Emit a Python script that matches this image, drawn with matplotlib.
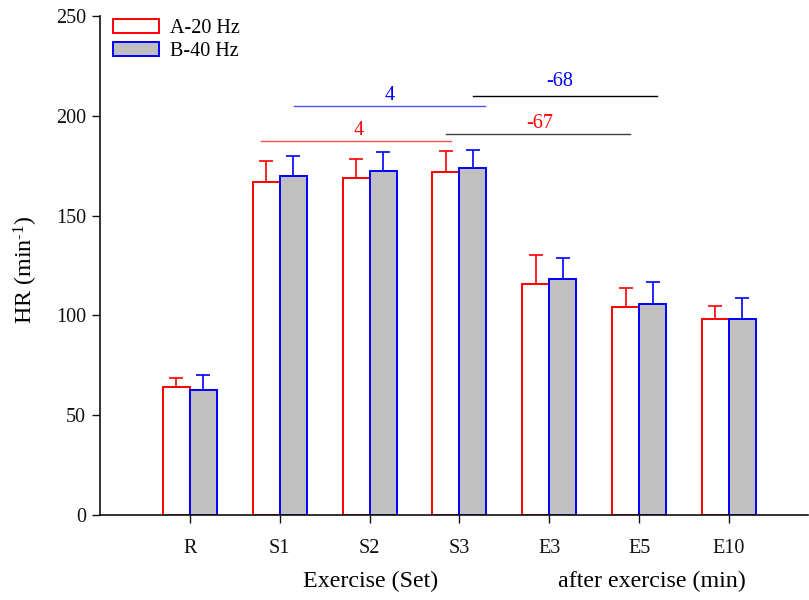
import matplotlib
matplotlib.use("Agg")
import matplotlib.pyplot as plt
import numpy as np
from matplotlib.patches import Patch

categories = ["R", "S1", "S2", "S3", "E3", "E5", "E10"]
a_mean = [64.2, 167.0, 169.0, 171.6, 115.7, 104.3, 98.4]
a_err = [4.5, 10.2, 9.4, 11.0, 14.5, 9.2, 6.5]
b_mean = [62.6, 170.0, 172.4, 174.1, 118.0, 105.9, 98.1]
b_err = [7.4, 10.0, 9.5, 9.0, 10.8, 10.6, 10.8]
series_labels = ["A-20 Hz", "B-40 Hz"]
yticks = [0, 50, 100, 150, 200, 250]

plt.rcParams['font.family'] = ['Liberation Serif', 'DejaVu Serif']
plt.rcParams['mathtext.fontset'] = 'custom'
plt.rcParams['mathtext.rm'] = 'Liberation Serif'
plt.rcParams['mathtext.it'] = 'Liberation Serif:italic'
fs = 14.5
fs_lab = 17.3

fig = plt.figure(figsize=(8.09, 6.0), dpi=100)
ax = fig.add_axes([0.1236, 0.1417, 0.8752, 0.8316])

x = np.arange(len(categories))
w = 0.30
ax.bar(x - w / 2, a_mean, width=w, facecolor="white", edgecolor="#ff0000", linewidth=1.4, zorder=2)
ax.bar(x + w / 2, b_mean, width=w, facecolor="#c0c0c0", edgecolor="#0000ff", linewidth=1.4, zorder=2)
ax.errorbar(x - w / 2, a_mean, yerr=[np.zeros(len(a_err)), a_err], fmt="none",
            ecolor="#ff0000", elinewidth=1.2, capsize=5, capthick=1.2, zorder=1)
ax.errorbar(x + w / 2, b_mean, yerr=[np.zeros(len(b_err)), b_err], fmt="none",
            ecolor="#0000ff", elinewidth=1.2, capsize=5, capthick=1.2, zorder=1)

# significance annotations
ax.plot([0.79, 2.91], [187.6, 187.6], color="#ff5050", lw=1.0)
ax.text(1.88, 192.5, "4", color="#ff0000", fontsize=fs, ha="center", va="center")
ax.plot([1.16, 3.28], [204.7, 204.7], color="#5050ff", lw=1.0)
ax.text(2.22, 210.0, "4", color="#0000ff", fontsize=fs, ha="center", va="center")
ax.plot([2.85, 4.90], [190.7, 190.7], color="#404040", lw=1.0)
ax.text(3.89, 196.0, "-67", color="#ff0000", fontsize=fs, ha="center", va="center")
ax.plot([3.155, 5.20], [210.0, 210.0], color="black", lw=1.0)
ax.text(4.12, 217.2, "-68", color="#0000ff", fontsize=fs, ha="center", va="center")

ax.set_xlim(-1.0, 6.88)
ax.set_ylim(0, 250)
ax.set_xticks(x)
ax.set_xticklabels(categories, fontsize=fs)
ax.set_yticks(yticks)
ax.set_yticklabels([str(t) for t in yticks], fontsize=fs)
ax.tick_params(axis="both", direction="out", length=6, width=1.0, colors="#111111")
ax.tick_params(axis="x", pad=11)
ax.tick_params(axis="y", pad=4)
for s in ["top", "right"]:
    ax.spines[s].set_visible(False)
for s in ["left", "bottom"]:
    ax.spines[s].set_linewidth(1.2)
    ax.spines[s].set_color("#111111")

fig.text(26 / 809, 1 - 270 / 600, r"HR (min$^{\text{-1}}$)", fontsize=fs_lab,
         rotation=90, ha="center", va="center")

fig.text(370.5 / 809, 1 - 581 / 600, "Exercise (Set)", fontsize=fs_lab, ha="center", va="center")
fig.text(652 / 809, 1 - 581 / 600, "after exercise (min)", fontsize=fs_lab, ha="center", va="center")

handles = [Patch(facecolor="white", edgecolor="#ff0000", linewidth=1.4),
           Patch(facecolor="#c0c0c0", edgecolor="#0000ff", linewidth=1.4)]
ax.legend(handles, series_labels, loc="upper left",
          bbox_to_anchor=(105 / 809, 1 - 11 / 600), bbox_transform=fig.transFigure, frameon=False,
          fontsize=fs, handlelength=2.3, handleheight=0.7, labelspacing=0.18, handletextpad=0.55,
          borderaxespad=0.0, borderpad=0.4)

fig.savefig("out.png", dpi=100)
